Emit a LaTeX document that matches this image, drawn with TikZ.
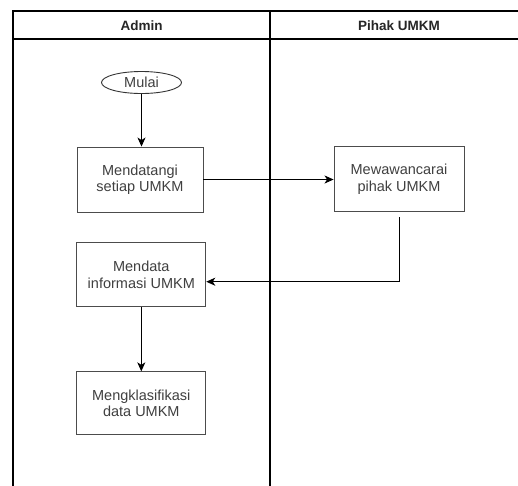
\documentclass[tikz,border=0pt]{standalone}
\usepackage{fontspec}
\setmainfont{Liberation Sans}
\usetikzlibrary{shapes.geometric,arrows.meta}
\begin{document}
\begin{tikzpicture}[x=1pt,y=-1pt,
  lane/.style={draw=black,line width=1.1pt},
  procbox/.style={draw=black!70,line width=0.9pt,fill=white,align=center,
    text=black!75,font=\fontsize{14.5}{16.5}\selectfont,inner sep=0pt},
  terminal/.style={ellipse,draw=black!80,line width=0.9pt,fill=white,
    text=black!75,font=\fontsize{14.5}{16.5}\selectfont,inner sep=0pt},
  flow/.style={draw=black,line width=1pt,-{Stealth[length=9pt,width=8pt,inset=2.5pt]}},
  lanehead/.style={font=\bfseries\fontsize{13.5}{15}\selectfont,text=black!85}]
\useasboundingbox (0,0) rectangle (518,485);
\fill[white] (0,0) rectangle (518,485);

% swimlane frame
\coordinate (tl) at (13,11);
\coordinate (tr) at (520,11);
\coordinate (bl) at (13,487);
\coordinate (ml) at (13,39);
\coordinate (mr) at (520,39);
\coordinate (dt) at (270,11);
\coordinate (db) at (270,487);
\draw[lane] (bl) -- (tl) -- (tr);
\draw[lane] (ml) -- (mr);
\draw[lane] (dt) -- (db);
\node[lanehead] (hadmin) at (141.5,25.5) {Admin};
\node[lanehead] (humkm) at (399,25.5) {Pihak UMKM};

% process steps
\node[terminal,minimum width=80pt,minimum height=22pt] (mulai) at (141.5,82.5) {Mulai};
\node[procbox,minimum width=126pt,minimum height=65pt] (datang) at (140,179.5) {Mendatangi\\setiap UMKM};
\node[procbox,minimum width=130pt,minimum height=65pt] (wawancara) at (399,179) {Mewawancarai\\pihak UMKM};
\node[procbox,minimum width=129pt,minimum height=64pt] (mendata) at (141.3,274.7) {Mendata\\informasi UMKM};
\node[procbox,minimum width=129pt,minimum height=63pt] (klasifikasi) at (141.3,403.3) {Mengklasifikasi\\data UMKM};

% connectors
\draw[flow] (mulai.south) -- (datang.north -| mulai.south);
\draw[flow] (datang.east) -- (wawancara.west |- datang.east);
\coordinate (wstart) at ([yshift=-5.5pt]wawancara.south);
\coordinate (mtarget) at ([yshift=-7pt]mendata.east);
\draw[flow] (wstart) |- (mtarget);
\draw[flow] (mendata.south) -- (klasifikasi.north);
\end{tikzpicture}
\end{document}
